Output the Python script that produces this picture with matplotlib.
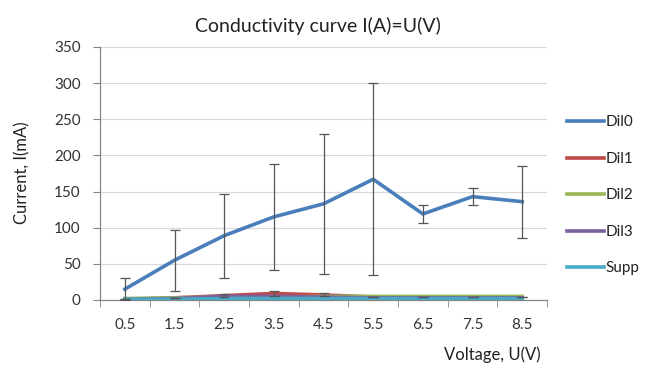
import matplotlib
matplotlib.use("Agg")
import matplotlib.pyplot as plt
import numpy as np

categories = ["0.5", "1.5", "2.5", "3.5", "4.5", "5.5", "6.5", "7.5", "8.5"]
dil0 = [15, 55, 89, 115, 133, 167, 119, 143, 136]
dil0_err = [15, 42, 58, 73, 97, 133, 12, 12, 50]
dil1 = [1, 3, 6, 9, 7, 4, 4, 4, 4]
dil1_err = [0, 0, 2, 3, 2, 0, 0, 0, 0]
dil2 = [2, 3, 4, 4, 5, 5, 5, 5, 5]
dil3 = [1, 2, 5, 5, 4, 3, 3, 3, 3]
supp = [1, 1, 2, 2, 2, 2, 2, 2, 2]
series_names = ["Dil0", "Dil1", "Dil2", "Dil3", "Supp"]
colors = ["#4A7EBB", "#BE4B48", "#98B954", "#7D60A0", "#46AAC5"]

plt.rcParams['font.family'] = ['Lato', 'DejaVu Sans']

fig = plt.figure(figsize=(6.51, 3.67), dpi=100)
ax = fig.add_axes([0.1536, 0.1826, 0.8403 - 0.1536, 0.872 - 0.1826])

x = np.arange(len(categories))
data = [dil0, dil1, dil2, dil3, supp]
errs = [dil0_err, dil1_err, None, None, None]
for name, vals, err, c in zip(series_names, data, errs, colors):
    ax.plot(x, vals, color=c, lw=2.6, label=name, solid_joinstyle='round', zorder=3)
    if err is not None:
        ax.errorbar(x, vals, yerr=err, fmt='none', ecolor='#555555', elinewidth=0.9,
                    capsize=3.5, capthick=0.9, zorder=4)

ax.set_xlim(-0.5, len(categories) - 0.5)
ax.set_ylim(0, 350)
ax.set_yticks(np.arange(0, 351, 50))
ax.set_xticks(x)
ax.set_xticklabels(categories)
ax.set_xticks(np.arange(-0.5, len(categories), 1.0), minor=True)
ax.tick_params(axis='x', which='major', length=0, pad=13, labelsize=11, colors='#333333')
ax.tick_params(axis='x', which='minor', length=5, color='#868686', direction='out')
ax.tick_params(axis='y', length=5, color='#868686', labelsize=11, colors='#333333', pad=9)
ax.grid(axis='y', color='#d9d9d9', lw=0.9)
ax.set_axisbelow(True)
for s in ['top', 'right']:
    ax.spines[s].set_visible(False)
for s in ['left', 'bottom']:
    ax.spines[s].set_color('#868686')
    ax.spines[s].set_linewidth(0.9)

fig.text(0.488, 0.928, "Conductivity curve I(A)=U(V)", ha='center', va='center',
         fontsize=14, color='#222222')
fig.text(0.035, 0.53, "Current, I(mA)", rotation=90, ha='center', va='center',
         fontsize=12, color='#222222')
fig.text(0.83, 0.033, "Voltage, U(V)", ha='right', va='center',
         fontsize=12, color='#222222')

leg = fig.legend(loc='upper left', bbox_to_anchor=(0.862, 0.702), frameon=False,
                 fontsize=11, handlelength=2.4, handletextpad=0.1, labelspacing=1.47,
                 borderaxespad=0)
for t in leg.get_texts():
    t.set_color('#222222')

fig.savefig("out.png", dpi=100)
